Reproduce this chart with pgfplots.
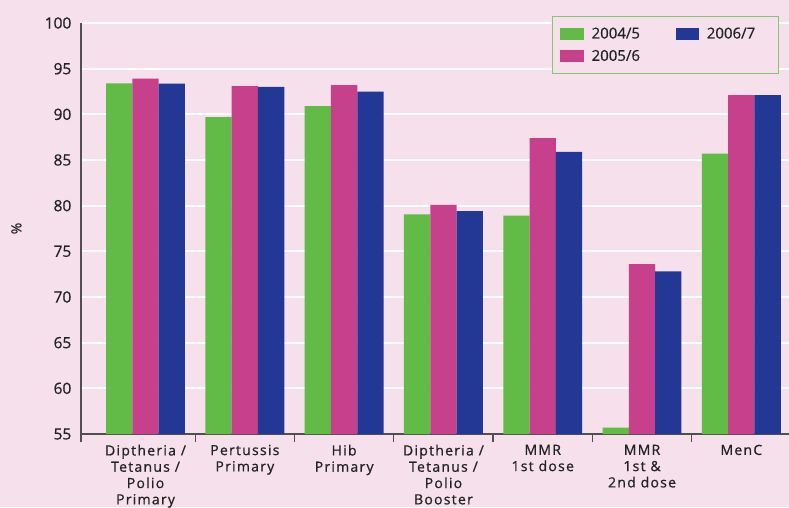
\documentclass[border=0pt]{standalone}
\usepackage{pgfplots}
\pgfplotsset{compat=1.18}
\usepackage{fontspec}
\setmainfont{Open Sans}[FakeBold=0.6]
\newfontfamily\labfont{Open Sans}[LetterSpace=9, FakeBold=0.8]
\definecolor{bg}{RGB}{245,224,236}
\definecolor{cgreen}{RGB}{98,187,70}
\definecolor{cmag}{RGB}{198,64,140}
\definecolor{cblue}{RGB}{35,56,148}
\definecolor{axgray}{RGB}{80,80,80}
\definecolor{txt}{RGB}{35,35,35}
\begin{document}
\begin{tikzpicture}[x=1pt,y=1pt]
\useasboundingbox (0,0) rectangle (789,507);
\fill[bg] (0,0) rectangle (789,507);
\begin{axis}[
  at={(81pt,73pt)}, anchor=south west,
  width=708pt, height=411pt, scale only axis,
  xmin=-0.65, xmax=6.48, ymin=55, ymax=100,
  axis x line=bottom, axis y line=left,
  axis line style={axgray, line width=1.3pt, -},
  ybar=0pt, bar width=26.3pt,
  ytick={55,60,...,100},
  ytick style={draw=none},
  ymajorgrids, grid style={white, line width=1.8pt},
  /pgf/number format/assume math mode=true,
  yticklabel style={font=\fontsize{15.5}{15.5}\selectfont, text=txt, xshift=-4pt},
  xtick={0,...,6},
  xtick style={draw=none},
  xticklabels={{Diptheria /\\Tetanus /\\Polio\\Primary},{Pertussis\\Primary},{Hib\\Primary},{Diptheria /\\Tetanus /\\Polio\\Booster},{MMR\\1st dose},{MMR\\1st \&\\2nd dose},{MenC}},
  xticklabel style={font=\labfont\fontsize{14}{16.3}\selectfont, text=txt, align=center, anchor=north, yshift=-3pt},
  extra x ticks={-0.65,0.5,1.5,2.5,3.5,4.5,5.5},
  extra x tick labels={},
  extra x tick style={xtick style={draw=axgray, line width=1.3pt}, major tick length=8pt, tick align=outside, grid=none},
  ylabel={\%},
  ylabel style={at={(axis description cs:-0.079,0.5)}, font=\fontsize{14}{14}\selectfont, text=txt},
  legend columns=2,
  legend cell align=left,
  legend style={at={(axis description cs:0.665,1.017)}, anchor=north west,
    draw=cgreen!80, line width=1.2pt, fill=bg, inner xsep=8pt, inner ysep=9pt,
    font=\fontsize{15}{15}\selectfont, text=txt, row sep=6pt,
    /tikz/every odd column/.append style={column sep=6pt},
    /tikz/every even column/.append style={column sep=20pt, text width=62pt}},
]
\addplot[fill=cgreen, draw=none, forget plot, bar shift=-26.3pt] coordinates {(0,93.4) (1,89.7) (2,90.9) (3,79.05) (4,78.9) (5,55.7) (6,85.7)};
\addplot[fill=cmag, draw=none, forget plot, bar shift=0pt] coordinates {(0,93.9) (1,93.1) (2,93.2) (3,80.1) (4,87.4) (5,73.6) (6,92.1)};
\addplot[fill=cblue, draw=none, forget plot, bar shift=26.3pt] coordinates {(0,93.35) (1,93.0) (2,92.5) (3,79.4) (4,85.9) (5,72.8) (6,92.1)};
\addlegendimage{legend image code/.code={\fill[cgreen] (0pt,-5.5pt) rectangle (22pt,5.5pt);}}
\addlegendentry{2004/5}
\addlegendimage{legend image code/.code={\fill[cblue] (0pt,-5.5pt) rectangle (22pt,5.5pt);}}
\addlegendentry{2006/7}
\addlegendimage{legend image code/.code={\fill[cmag] (0pt,-5.5pt) rectangle (22pt,5.5pt);}}
\addlegendentry{2005/6}
\end{axis}
\end{tikzpicture}
\end{document}
